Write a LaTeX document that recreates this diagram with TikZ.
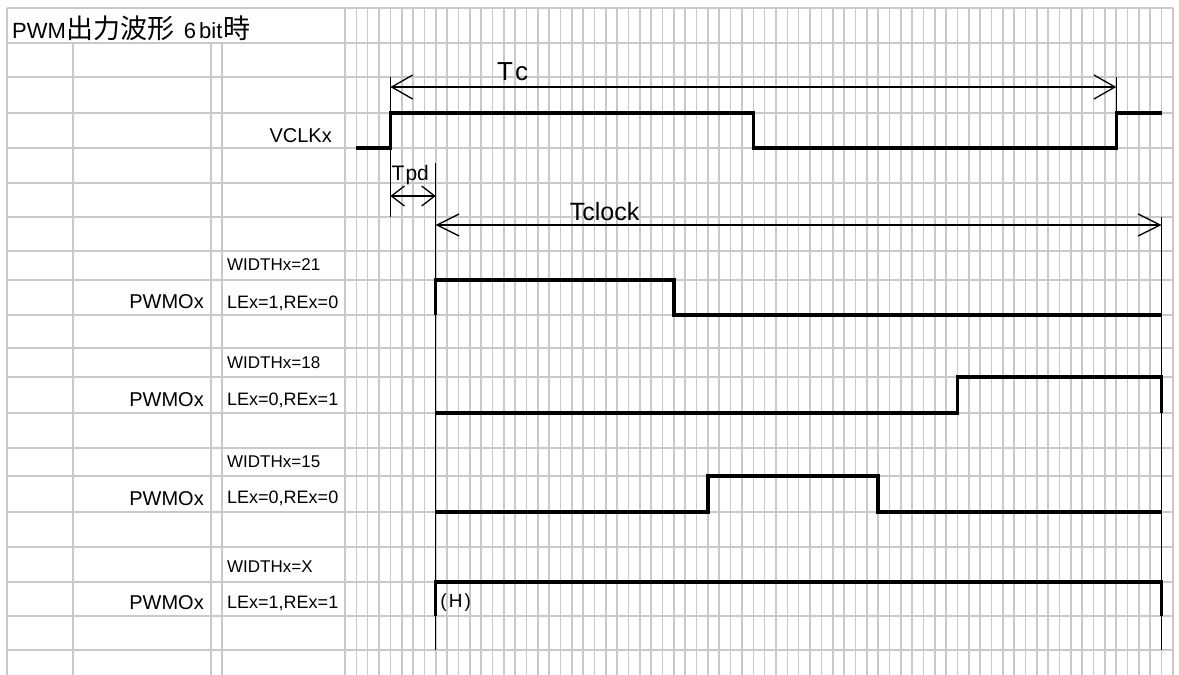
\documentclass[tikz,border=0pt]{standalone}
\usepackage{fontspec}
\setmainfont{Liberation Sans}
\newfontfamily\jpfont{Noto Sans CJK JP}
\usetikzlibrary{arrows.meta}

\begin{document}
\begin{tikzpicture}[x=1pt,y=-1pt,
    gridline/.style={line width=1.6pt,black!21},
    wave/.style={line width=3.2pt},
    thinline/.style={line width=1.3pt},
    txt/.style={inner sep=0pt,anchor=base west}]
  \useasboundingbox[fill=white] (0,0) rectangle (1179,675);
  \foreach \r in {8,43,77,113,148,183,217,251,280,315,348,377,413,448,476,512,547,582,616,650}
    \draw[gridline] (7,\r) -- (1173,\r);
  \draw[gridline] (7,8) -- (7,675);
  \foreach \x in {73,211,222}
    \draw[gridline] (\x,43) -- (\x,675);

  \node[txt,font=\fontsize{22}{22}\selectfont] (title) at (12,38)
    {PWM\hspace{1pt}{\jpfont\fontsize{27}{27}\selectfont 出力波形}\hspace{9pt}6\hspace{3pt}bit\hspace{1pt}{\jpfont\fontsize{27}{27}\selectfont 時}};
  \node[txt,anchor=base east,font=\fontsize{20}{20}\selectfont] (vclk) at (332,142) {VCLKx};
  \node[txt,anchor=base east,font=\fontsize{20}{20}\selectfont] (pwmA) at (204,308) {PWMOx};
  \node[txt,anchor=base east,font=\fontsize{20}{20}\selectfont] (pwmB) at (204,406) {PWMOx};
  \node[txt,anchor=base east,font=\fontsize{20}{20}\selectfont] (pwmC) at (204,505) {PWMOx};
  \node[txt,anchor=base east,font=\fontsize{20}{20}\selectfont] (pwmD) at (204,609) {PWMOx};
  \node[txt,font=\fontsize{17}{17}\selectfont] (widthA) at (227,270) {WIDTHx=21};
  \node[txt,font=\fontsize{17}{17}\selectfont] (widthB) at (227,368) {WIDTHx=18};
  \node[txt,font=\fontsize{17}{17}\selectfont] (widthC) at (227,467) {WIDTHx=15};
  \node[txt,font=\fontsize{17}{17}\selectfont] (widthD) at (227,572) {WIDTHx=X};
  \node[txt,font=\fontsize{18}{18}\selectfont] (leA) at (227,308) {LEx=1,REx=0};
  \node[txt,font=\fontsize{18}{18}\selectfont] (leB) at (227,405) {LEx=0,REx=1};
  \node[txt,font=\fontsize{18}{18}\selectfont] (leC) at (227,503) {LEx=0,REx=0};
  \node[txt,font=\fontsize{18}{18}\selectfont] (leD) at (227,608) {LEx=1,REx=1};

  \begin{scope}[shift={(345,0)},x=11.342pt]
    \foreach \c in {0,...,73}
      \draw[gridline] (\c,8) -- (\c,675);

    \coordinate (tcL) at (4,87);
    \coordinate (tcR) at (68,87);
    \coordinate (tpdL) at (4,196);
    \coordinate (tpdR) at (8,196);
    \coordinate (tclkL) at (8,225);
    \coordinate (tclkR) at (72,225);

    \draw[thinline] (4,77) -- (4,217);
    \draw[thinline] (68,77) -- (68,113);
    \draw[thinline] (8,163) -- (8,650);
    \draw[thinline] (72,217) -- (72,650);
    \draw[thinline,{Straight Barb[length=21pt,width=24pt]}-{Straight Barb[length=21pt,width=24pt]}] (tcL) -- (tcR);
    \draw[thinline,{Straight Barb[length=13pt,width=20pt]}-{Straight Barb[length=13pt,width=20pt]}] (tpdL) -- (tpdR);
    \draw[thinline,{Straight Barb[length=22pt,width=22pt]}-{Straight Barb[length=22pt,width=22pt]}] (tclkL) -- (tclkR);

    \node[txt,font=\fontsize{26}{26}\selectfont] (tc) at (13.4,80) {T\kern2pt c};
    \node[txt,font=\fontsize{21}{21}\selectfont] (tpd) at (4.1,180) {T\kern1pt pd};
    \node[txt,font=\fontsize{25}{25}\selectfont] (tclock) at (19.8,220) {Tclock};
    \node[txt,font=\fontsize{19}{19}\selectfont] (hlevel) at (8.4,607) {(\kern2pt H\kern2pt)};

    \draw[wave] (1,148) -| (4,113) -| (36,148) -| (68,113) -- (72,113);
    \draw[wave] (8,315) |- (29,280) |- (72,315);
    \draw[wave] (8,413) -| (54,377) -- (72,377) -- (72,413);
    \draw[wave] (8,512) -| (32,476) -| (47,512) -- (72,512);
    \draw[wave] (8,616) |- (72,582) -- (72,616);
  \end{scope}
\end{tikzpicture}
\end{document}
